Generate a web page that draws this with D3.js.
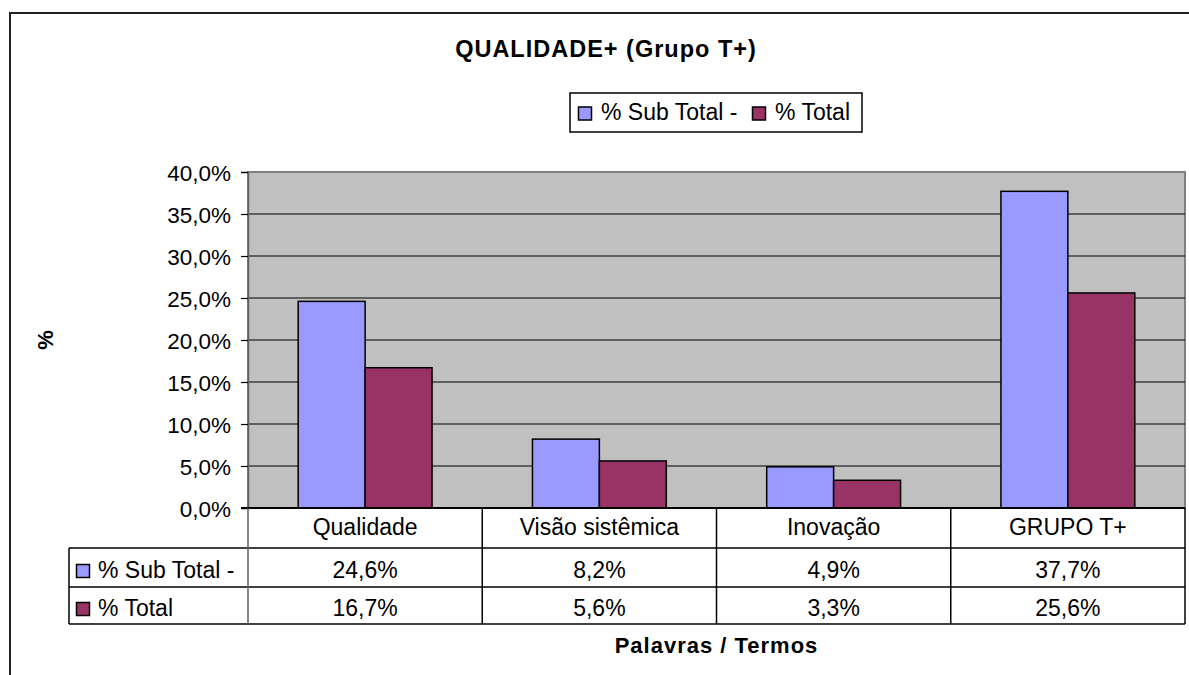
<!DOCTYPE html>
<html>
<head>
<meta charset="utf-8">
<script src="https://cdn.jsdelivr.net/npm/d3@7"></script>
<style>
  body { margin: 0; background: #fff; }
  text { font-family: Arial, "Liberation Sans", sans-serif; fill: #000; }
</style>
</head>
<body>
<script>
// chart values
var categories = ['Qualidade', 'Visão sistêmica', 'Inovação', 'GRUPO T+'];
var seriesNames = ['% Sub Total -', '% Total'];
var subTotal = [24.6, 8.2, 4.9, 37.7];
var total = [16.7, 5.6, 3.3, 25.6];
var yTicks = [0, 5, 10, 15, 20, 25, 30, 35, 40];
var colors = ['#9999FF', '#993366'];

var seriesValues = [subTotal, total];

var width = 1189,
    height = 675;

var plotLeft = 248, plotRight = 1185, plotTop = 172, plotBottom = 508;

var svg = d3.select('body').append('svg')
    .attr('width', width)
    .attr('height', height);

// outer chart border (cut off on the right / bottom)
svg.append('rect')
    .attr('x', 10).attr('y', 13)
    .attr('width', 1210).attr('height', 720)
    .attr('fill', '#fff')
    .attr('stroke', '#222')
    .attr('stroke-width', 2);

var fmt = function(v) { return d3.format('.1f')(v).replace('.', ',') + '%'; };

var x0 = d3.scaleBand()
    .domain(categories)
    .range([plotLeft, plotRight])
    .padding(0);

var barW = x0.bandwidth() / 3.5;   // gap width 150%
var x1 = d3.scaleBand()
    .domain(seriesNames)
    .range([0, barW * 2]);

var y = d3.scaleLinear()
    .domain([0, 40])
    .range([plotBottom, plotTop]);

// plot area
svg.append('rect')
    .attr('x', plotLeft).attr('y', plotTop)
    .attr('width', plotRight - plotLeft).attr('height', plotBottom - plotTop)
    .attr('fill', '#C0C0C0')
    .attr('stroke', '#808080')
    .attr('stroke-width', 2);

// gridlines
svg.append('g')
    .selectAll('line')
    .data(yTicks.filter(function(d) { return d > 0 && d < 40; }))
    .enter().append('line')
    .attr('x1', plotLeft).attr('x2', plotRight)
    .attr('y1', function(d) { return y(d); })
    .attr('y2', function(d) { return y(d); })
    .attr('stroke', '#000')
    .attr('stroke-width', 1.2);

// y axis
var yAxis = svg.append('g')
    .attr('transform', 'translate(' + plotLeft + ',0)')
    .call(d3.axisLeft(y).tickValues(yTicks).tickFormat(fmt).tickSize(7).tickPadding(10));
yAxis.select('.domain').attr('stroke', '#606060').attr('stroke-width', 1.5);
yAxis.selectAll('.tick line').attr('stroke', '#000').attr('stroke-width', 1.2);
yAxis.selectAll('.tick text')
    .style('font-size', '22.5px')
    .style('font-family', 'Arial, "Liberation Sans", sans-serif')
    .attr('fill', '#000')
    .attr('dy', '0.36em');

// bars
var groups = svg.append('g')
    .selectAll('g')
    .data(categories)
    .enter().append('g')
    .attr('transform', function(d) { return 'translate(' + (x0(d) + (x0.bandwidth() - barW * 2) / 2) + ',0)'; });

groups.selectAll('rect')
    .data(function(d, i) {
      return seriesNames.map(function(s, j) { return {s: s, v: seriesValues[j][i], c: colors[j]}; });
    })
    .enter().append('rect')
    .attr('x', function(d) { return x1(d.s); })
    .attr('y', function(d) { return y(d.v); })
    .attr('width', x1.bandwidth())
    .attr('height', function(d) { return plotBottom - y(d.v); })
    .attr('fill', function(d) { return d.c; })
    .attr('stroke', '#000')
    .attr('stroke-width', 1.5);

// x axis baseline
svg.append('line')
    .attr('x1', plotLeft - 7).attr('x2', plotRight)
    .attr('y1', plotBottom).attr('y2', plotBottom)
    .attr('stroke', '#000').attr('stroke-width', 2);

// data table
var tableLeft = 69, tableBottom = 624;
var tbl = svg.append('g');

[548, 587, tableBottom].forEach(function(yy) {
  tbl.append('line')
    .attr('x1', tableLeft).attr('x2', plotRight)
    .attr('y1', yy).attr('y2', yy)
    .attr('stroke', '#000').attr('stroke-width', 1.5);
});
tbl.append('line')
    .attr('x1', tableLeft).attr('x2', tableLeft)
    .attr('y1', 548).attr('y2', tableBottom)
    .attr('stroke', '#000').attr('stroke-width', 1.5);
tbl.append('line')
    .attr('x1', plotLeft).attr('x2', plotLeft)
    .attr('y1', plotBottom).attr('y2', tableBottom)
    .attr('stroke', '#606060').attr('stroke-width', 1.5);
tbl.selectAll('.sep')
    .data(categories)
    .enter().append('line')
    .attr('x1', function(d) { return x0(d) + x0.bandwidth(); })
    .attr('x2', function(d) { return x0(d) + x0.bandwidth(); })
    .attr('y1', plotBottom).attr('y2', tableBottom)
    .attr('stroke', '#000').attr('stroke-width', 1.5);

tbl.selectAll('.cat')
    .data(categories)
    .enter().append('text')
    .attr('x', function(d) { return x0(d) + x0.bandwidth() / 2; })
    .attr('y', 535)
    .attr('text-anchor', 'middle')
    .style('font-size', '23px')
    .text(function(d) { return d; });

var rowBase = [578, 616];
seriesNames.forEach(function(s, j) {
  tbl.append('rect')
    .attr('x', 76.5).attr('y', rowBase[j] - 13.5)
    .attr('width', 13).attr('height', 13)
    .attr('fill', colors[j])
    .attr('stroke', '#000').attr('stroke-width', 1.5);
  tbl.append('text')
    .attr('x', 98).attr('y', rowBase[j])
    .style('font-size', '23px')
    .text(s);
  tbl.selectAll('.v' + j)
    .data(seriesValues[j])
    .enter().append('text')
    .attr('x', function(d, i) { return x0(categories[i]) + x0.bandwidth() / 2; })
    .attr('y', rowBase[j])
    .attr('text-anchor', 'middle')
    .style('font-size', '23px')
    .text(function(d) { return fmt(d); });
});

// legend
var lg = svg.append('g');
lg.append('rect')
    .attr('x', 570).attr('y', 93)
    .attr('width', 292).attr('height', 39)
    .attr('fill', '#fff')
    .attr('stroke', '#000').attr('stroke-width', 1.5);
var legendX = [578, 752];
seriesNames.forEach(function(s, j) {
  lg.append('rect')
    .attr('x', legendX[j] + 0.5).attr('y', 107)
    .attr('width', 13).attr('height', 13)
    .attr('fill', colors[j])
    .attr('stroke', '#000').attr('stroke-width', 1.5);
  lg.append('text')
    .attr('x', legendX[j] + 23).attr('y', 120)
    .style('font-size', '23px')
    .text(s);
});

// titles
svg.append('text')
    .attr('x', 606).attr('y', 57)
    .attr('text-anchor', 'middle')
    .style('font-size', '23.5px')
    .style('font-weight', 'bold')
    .style('letter-spacing', '1px')
    .text('QUALIDADE+ (Grupo T+)');

svg.append('text')
    .attr('x', (plotLeft + plotRight) / 2).attr('y', 653)
    .attr('text-anchor', 'middle')
    .style('font-size', '22px')
    .style('font-weight', 'bold')
    .style('letter-spacing', '1px')
    .text('Palavras / Termos');

svg.append('text')
    .attr('transform', 'translate(53,' + ((plotTop + plotBottom) / 2) + ') rotate(-90)')
    .attr('text-anchor', 'middle')
    .style('font-size', '22px')
    .style('font-weight', 'bold')
    .text('%');
</script>
</body>
</html>
